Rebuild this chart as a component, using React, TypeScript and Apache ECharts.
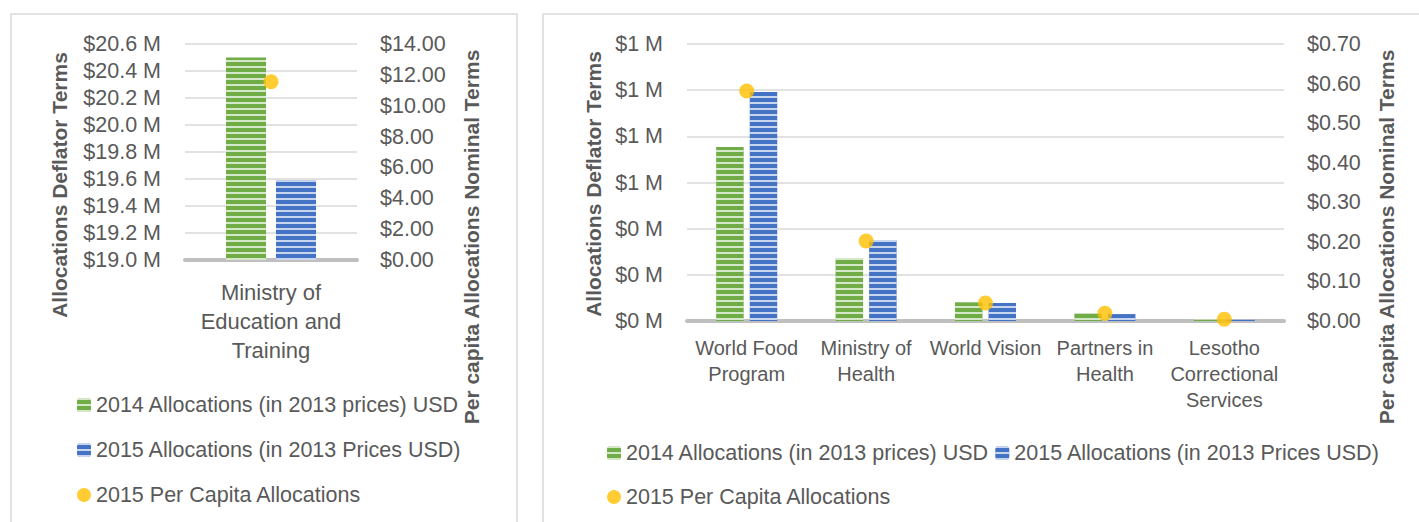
import React, { useEffect, useRef } from "react";
import * as echarts from "echarts";

const leftCategories = ["Ministry of\nEducation and\nTraining"];
const left2014 = [20.5];
const left2015 = [19.59];
const leftPerCapita = [11.55];

const rightCategories = [
  "World Food\nProgram",
  "Ministry of\nHealth",
  "World Vision",
  "Partners in\nHealth",
  "Lesotho\nCorrectional\nServices",
];
const right2014 = [754000, 273000, 81000, 33000, 7000];
const right2015 = [992000, 351000, 78000, 30000, 6000];
const rightPerCapita = [0.581, 0.202, 0.0455, 0.0195, 0.0043];

const S2014 = "2014 Allocations (in 2013 prices) USD";
const S2015 = "2015 Allocations (in 2013 Prices USD)";
const SPC = "2015 Per Capita Allocations";

const FONT = "'Liberation Sans', Arial, sans-serif";
const TXT = "#595959";
const GREEN = "#70AD47";
const BLUE = "#4472C4";
const GOLD = "#FFC000";

const decal = {
  symbol: "rect",
  symbolSize: 1,
  symbolKeepAspect: false,
  color: "rgba(255,255,255,0.7)",
  dashArrayX: [1, 0],
  dashArrayY: [1.8, 3.5],
  rotation: 0,
};

export default function App() {
  const ref = useRef<HTMLDivElement>(null);
  useEffect(() => {
    if (!ref.current) return;
    const chart = echarts.init(ref.current, null, { renderer: "svg" });
    const axisLabel = (size: number, margin: number, fmt: (v: number) => string) => ({
      fontSize: size,
      color: TXT,
      fontFamily: FONT,
      margin,
      formatter: fmt,
    });
    const titleText = (x: number, y: number, text: string) => ({
      type: "text",
      x,
      y,
      rotation: Math.PI / 2,
      style: {
        text,
        fill: TXT,
        font: `bold 21px ${FONT}`,
        textAlign: "center",
        textVerticalAlign: "middle",
      },
    });
    const legendText = { fontSize: 21.5, color: TXT, fontFamily: FONT };
    const option: any = {
      animation: false,
      backgroundColor: "#fff",
      graphic: [
        {
          type: "rect",
          shape: { x: 11, y: 14, width: 506, height: 530 },
          style: { fill: "none", stroke: "#D9D9D9", lineWidth: 1.5 },
          silent: true,
        },
        {
          type: "rect",
          shape: { x: 543, y: 14, width: 900, height: 530 },
          style: { fill: "none", stroke: "#D9D9D9", lineWidth: 1.5 },
          silent: true,
        },
        titleText(59, 185, "Allocations Deflator Terms"),
        titleText(471, 237, "Per capita Allocations Nominal Terms"),
        titleText(593, 184, "Allocations Deflator Terms"),
        titleText(1386, 237, "Per capita Allocations Nominal Terms"),
      ],
      legend: [
        {
          orient: "vertical",
          left: 72,
          top: 389,
          itemWidth: 14,
          itemHeight: 14,
          itemGap: 23,
          textStyle: legendText,
          data: [S2014, S2015, { name: SPC, icon: "circle" }],
          selectedMode: false,
        },
        {
          orient: "horizontal",
          left: 602,
          top: 437,
          itemWidth: 14,
          itemHeight: 14,
          itemGap: 6,
          textStyle: legendText,
          data: [S2014, S2015],
          selectedMode: false,
        },
        {
          orient: "horizontal",
          left: 602,
          top: 481,
          itemWidth: 14,
          itemHeight: 14,
          textStyle: legendText,
          data: [{ name: SPC, icon: "circle" }],
          selectedMode: false,
        },
      ],
      grid: [
        { left: 185, top: 44, width: 172, height: 216 },
        { left: 687, top: 44, width: 597, height: 277 },
      ],
      xAxis: [
        {
          type: "category",
          gridIndex: 0,
          data: leftCategories,
          axisLine: { onZero: false, lineStyle: { color: "#BFBFBF", width: 4 } },
          axisTick: { show: false },
          axisLabel: { fontSize: 22, lineHeight: 29, color: TXT, fontFamily: FONT, margin: 18 },
        },
        {
          type: "category",
          gridIndex: 1,
          data: rightCategories,
          axisLine: { onZero: false, lineStyle: { color: "#BFBFBF", width: 4 } },
          axisTick: { show: false },
          axisLabel: {
            fontSize: 20,
            lineHeight: 26,
            color: TXT,
            fontFamily: FONT,
            margin: 14,
            interval: 0,
          },
        },
      ],
      yAxis: [
        {
          type: "value",
          gridIndex: 0,
          min: 19,
          max: 20.6,
          interval: 0.2,
          axisLabel: axisLabel(21.5, 24, (v) => `$${v.toFixed(1)} M`),
          splitLine: { lineStyle: { color: "#D9D9D9", width: 1.5 } },
          axisLine: { show: false },
          axisTick: { show: false },
        },
        {
          type: "value",
          gridIndex: 0,
          position: "right",
          min: 0,
          max: 14,
          interval: 2,
          axisLabel: axisLabel(21.5, 23, (v) => `$${v.toFixed(2)}`),
          splitLine: { show: false },
          axisLine: { show: false },
          axisTick: { show: false },
        },
        {
          type: "value",
          gridIndex: 1,
          min: 0,
          max: 1200000,
          interval: 200000,
          axisLabel: axisLabel(21.5, 24, (v) => `$${Math.round(v / 1e6)} M`),
          splitLine: { lineStyle: { color: "#D9D9D9", width: 1.5 } },
          axisLine: { show: false },
          axisTick: { show: false },
        },
        {
          type: "value",
          gridIndex: 1,
          position: "right",
          min: 0,
          max: 0.7,
          interval: 0.1,
          axisLabel: axisLabel(21.5, 23, (v) => `$${v.toFixed(2)}`),
          splitLine: { show: false },
          axisLine: { show: false },
          axisTick: { show: false },
        },
      ],
      series: [
        {
          name: S2014,
          type: "bar",
          xAxisIndex: 0,
          yAxisIndex: 0,
          data: left2014,
          barWidth: 40,
          barGap: "25%",
          itemStyle: { color: GREEN, decal },
        },
        {
          name: S2015,
          type: "bar",
          xAxisIndex: 0,
          yAxisIndex: 0,
          data: left2015,
          barWidth: 40,
          barGap: "25%",
          itemStyle: { color: BLUE, decal },
        },
        {
          name: SPC,
          type: "scatter",
          xAxisIndex: 0,
          yAxisIndex: 1,
          data: leftPerCapita,
          symbol: "circle",
          symbolSize: 15,
          itemStyle: { color: GOLD },
          z: 5,
        },
        {
          name: S2014,
          type: "bar",
          xAxisIndex: 1,
          yAxisIndex: 2,
          data: right2014,
          barWidth: 27.5,
          barGap: "22%",
          itemStyle: { color: GREEN, decal },
        },
        {
          name: S2015,
          type: "bar",
          xAxisIndex: 1,
          yAxisIndex: 2,
          data: right2015,
          barWidth: 27.5,
          barGap: "22%",
          itemStyle: { color: BLUE, decal },
        },
        {
          name: SPC,
          type: "scatter",
          xAxisIndex: 1,
          yAxisIndex: 3,
          data: rightPerCapita,
          symbol: "circle",
          symbolSize: 15,
          itemStyle: { color: GOLD },
          z: 5,
        },
      ],
    };
    chart.setOption(option);
    return () => chart.dispose();
  }, []);
  return (
    <div
      ref={ref}
      style={{ position: "fixed", left: 0, top: 0, width: 1419, height: 522, background: "#fff" }}
    />
  );
}
